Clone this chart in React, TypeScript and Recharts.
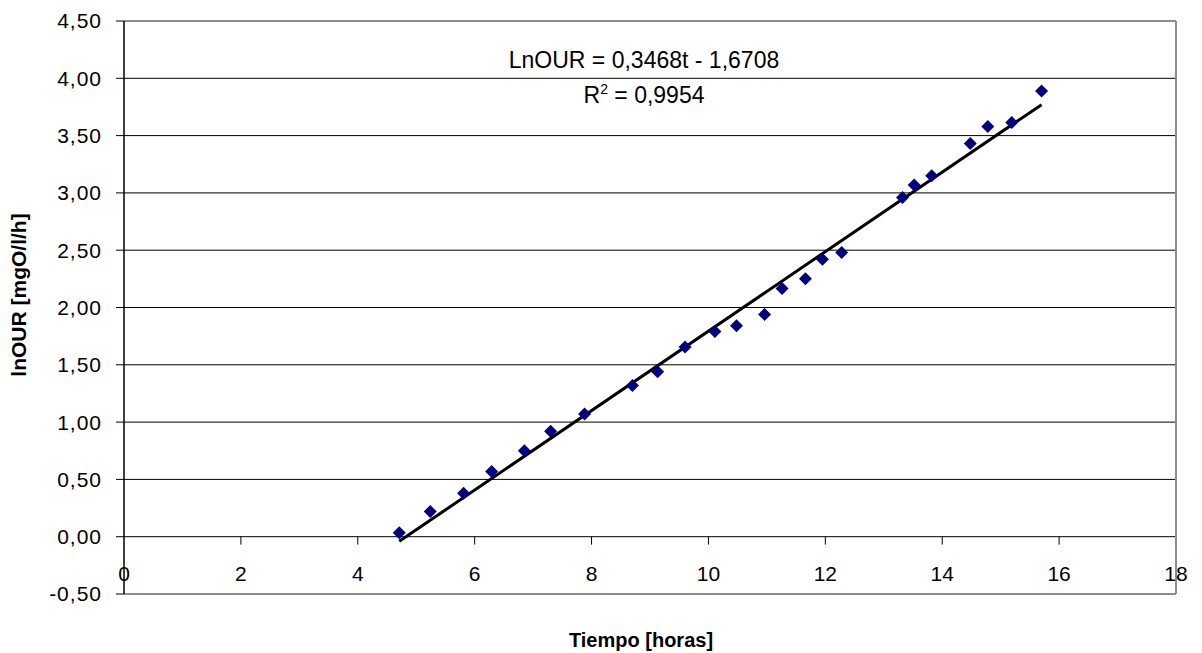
import React from "react";
import {
  ScatterChart, Scatter, XAxis, YAxis, CartesianGrid,
  ReferenceLine, Customized,
} from "recharts";

// tiempo [horas] vs lnOUR
const TIEMPO = [4.71, 5.24, 5.81, 6.29, 6.85, 7.30, 7.88, 8.70, 9.13, 9.60, 10.11, 10.48, 10.96, 11.26, 11.66, 11.95, 12.28, 13.32, 13.52, 13.82, 14.48, 14.78, 15.19, 15.70];
const LN_OUR = [0.035, 0.22, 0.38, 0.57, 0.75, 0.92, 1.07, 1.32, 1.44, 1.655, 1.79, 1.84, 1.94, 2.165, 2.25, 2.42, 2.48, 2.96, 3.07, 3.15, 3.43, 3.58, 3.615, 3.89];

// trend line endpoints
const TREND_T = [4.71, 15.70];
const TREND_LN = [-0.04, 3.77];

const X_TICKS = [0, 2, 4, 6, 8, 10, 12, 14, 16, 18];
const Y_TICKS = [-0.5, 0, 0.5, 1, 1.5, 2, 2.5, 3, 3.5, 4, 4.5];

const W = 1202;
const H = 653;
const MARGIN = { top: 21, right: 26, bottom: 58, left: 0 };
const Y_MIN = -0.5;
const Y_MAX = 4.5;
const PLOT_H = H - MARGIN.top - MARGIN.bottom;

const FONT = "'Liberation Sans', Arial, sans-serif";

const points = TIEMPO.map((t, i) => ({ t, v: LN_OUR[i] }));
const trend = TREND_T.map((t, i) => ({ t, v: TREND_LN[i] }));

function Diamond(props: any) {
  const { cx, cy } = props;
  if (cx == null || cy == null) return null;
  const r = 6.5;
  return (
    <polygon
      points={`${cx},${cy - r} ${cx + r},${cy} ${cx},${cy + r} ${cx - r},${cy}`}
      fill="#000080"
    />
  );
}

// x axis crosses at y = 0, like the original
function XTick(props: any) {
  const { x, y, payload } = props;
  const zeroY = y - (PLOT_H * (0 - Y_MIN)) / (Y_MAX - Y_MIN);
  return (
    <g>
      {payload.value !== 0 && payload.value !== 18 && (
        <line x1={x} x2={x} y1={zeroY} y2={zeroY + 8} stroke="#000" strokeWidth={1} />
      )}
      <text
        x={x}
        y={zeroY + 44}
        textAnchor="middle"
        fontSize={21}
        fontFamily={FONT}
        fill="#000"
      >
        {payload.value}
      </text>
    </g>
  );
}

function Texts() {
  return (
    <g fontFamily={FONT} fill="#000">
      <text x={644} y={68} textAnchor="middle" fontSize={23}>
        LnOUR = 0,3468t - 1,6708
      </text>
      <text x={644} y={103} textAnchor="middle" fontSize={23}>
        R<tspan dy={-9} fontSize={14}>2</tspan>
        <tspan dy={9}> = 0,9954</tspan>
      </text>
      <text x={641} y={647} textAnchor="middle" fontSize={20} fontWeight="bold">
        Tiempo [horas]
      </text>
      <text
        x={26}
        y={295}
        textAnchor="middle"
        fontSize={21}
        fontWeight="bold"
        transform="rotate(-90 26 295)"
      >
        lnOUR [mgO/l/h]
      </text>
    </g>
  );
}

export default function App() {
  return (
    <div style={{ position: "absolute", left: 0, top: 0, width: W, height: H, background: "#fff" }}>
      <ScatterChart width={W} height={H} margin={MARGIN}>
        <CartesianGrid vertical={false} stroke="#000" strokeWidth={1} />
        <ReferenceLine y={4.5} stroke="#8c8c8c" strokeWidth={2} />
        <ReferenceLine y={-0.5} stroke="#8c8c8c" strokeWidth={2} />
        <ReferenceLine x={18} stroke="#8c8c8c" strokeWidth={2} />
        <XAxis
          type="number"
          dataKey="t"
          domain={[0, 18]}
          ticks={X_TICKS}
          axisLine={false}
          tickLine={false}
          tickSize={0}
          tickMargin={0}
          height={1}
          tick={<XTick />}
          interval={0}
        />
        <YAxis
          type="number"
          dataKey="v"
          domain={[Y_MIN, Y_MAX]}
          ticks={Y_TICKS}
          width={124}
          interval={0}
          axisLine={{ stroke: "#000", strokeWidth: 1.5 }}
          tickLine={{ stroke: "#000" }}
          tickSize={8}
          tickMargin={14}
          tickFormatter={(v: number) => v.toFixed(2).replace(".", ",")}
          tick={{ fill: "#000", fontSize: 21, fontFamily: FONT, letterSpacing: 1 }}
        />
        <Scatter
          data={trend}
          line={{ stroke: "#000", strokeWidth: 3 }}
          shape={() => null}
          isAnimationActive={false}
        />
        <Scatter data={points} shape={<Diamond />} isAnimationActive={false} />
        <Customized component={Texts} />
      </ScatterChart>
    </div>
  );
}
